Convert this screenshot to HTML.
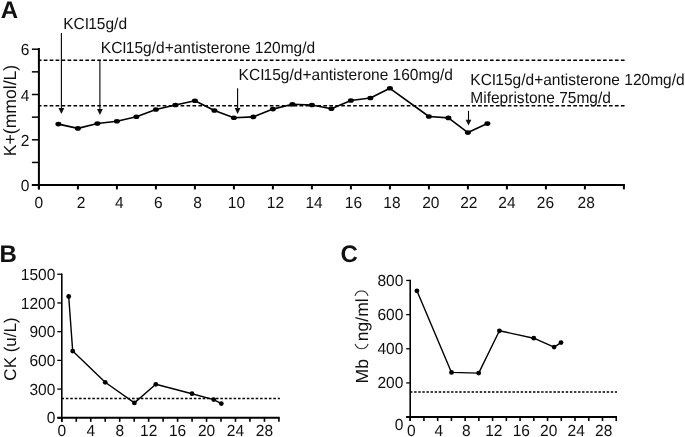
<!DOCTYPE html>
<html><head><meta charset="utf-8"><style>
html,body{margin:0;padding:0;background:#fff;width:685px;height:437px;overflow:hidden}
svg{display:block;filter:grayscale(1)}
text{font-family:"Liberation Sans",sans-serif;fill:#111}
</style></head><body>
<svg width="685" height="437" viewBox="0 0 685 437" text-rendering="geometricPrecision">
<rect width="685" height="437" fill="#fff"/>
<text transform="translate(0.70,17.80) scale(1.0,1)" font-size="24" text-anchor="start" font-weight="bold" >A</text>
<line x1="38.90" y1="60.33" x2="625.00" y2="60.33" stroke="#000" stroke-width="1.5" stroke-dasharray="3.7 2.25" stroke-dashoffset="1.15"/>
<line x1="38.90" y1="105.83" x2="625.00" y2="105.83" stroke="#000" stroke-width="1.5" stroke-dasharray="3.7 2.25" stroke-dashoffset="1.15"/>
<line x1="38.90" y1="48.00" x2="38.90" y2="189.40" stroke="#000" stroke-width="2" />
<line x1="31.90" y1="184.90" x2="624.90" y2="184.90" stroke="#000" stroke-width="2" />
<line x1="31.90" y1="185.10" x2="38.90" y2="185.10" stroke="#000" stroke-width="1.5" />
<line x1="31.90" y1="162.45" x2="38.90" y2="162.45" stroke="#000" stroke-width="1.5" />
<line x1="31.90" y1="139.80" x2="38.90" y2="139.80" stroke="#000" stroke-width="1.5" />
<line x1="31.90" y1="117.15" x2="38.90" y2="117.15" stroke="#000" stroke-width="1.5" />
<line x1="31.90" y1="94.50" x2="38.90" y2="94.50" stroke="#000" stroke-width="1.5" />
<line x1="31.90" y1="71.85" x2="38.90" y2="71.85" stroke="#000" stroke-width="1.5" />
<line x1="31.90" y1="49.20" x2="38.90" y2="49.20" stroke="#000" stroke-width="1.5" />
<line x1="38.90" y1="184.90" x2="38.90" y2="189.40" stroke="#000" stroke-width="2" />
<line x1="77.90" y1="184.90" x2="77.90" y2="189.40" stroke="#000" stroke-width="2" />
<line x1="116.90" y1="184.90" x2="116.90" y2="189.40" stroke="#000" stroke-width="2" />
<line x1="155.90" y1="184.90" x2="155.90" y2="189.40" stroke="#000" stroke-width="2" />
<line x1="194.90" y1="184.90" x2="194.90" y2="189.40" stroke="#000" stroke-width="2" />
<line x1="233.90" y1="184.90" x2="233.90" y2="189.40" stroke="#000" stroke-width="2" />
<line x1="272.90" y1="184.90" x2="272.90" y2="189.40" stroke="#000" stroke-width="2" />
<line x1="311.90" y1="184.90" x2="311.90" y2="189.40" stroke="#000" stroke-width="2" />
<line x1="350.90" y1="184.90" x2="350.90" y2="189.40" stroke="#000" stroke-width="2" />
<line x1="389.90" y1="184.90" x2="389.90" y2="189.40" stroke="#000" stroke-width="2" />
<line x1="428.90" y1="184.90" x2="428.90" y2="189.40" stroke="#000" stroke-width="2" />
<line x1="467.90" y1="184.90" x2="467.90" y2="189.40" stroke="#000" stroke-width="2" />
<line x1="506.90" y1="184.90" x2="506.90" y2="189.40" stroke="#000" stroke-width="2" />
<line x1="545.90" y1="184.90" x2="545.90" y2="189.40" stroke="#000" stroke-width="2" />
<line x1="584.90" y1="184.90" x2="584.90" y2="189.40" stroke="#000" stroke-width="2" />
<line x1="623.90" y1="184.90" x2="623.90" y2="189.40" stroke="#000" stroke-width="2" />
<text transform="translate(38.90,207.50) scale(0.97,1)" font-size="16" text-anchor="middle" font-weight="normal" >0</text>
<text transform="translate(81.00,207.50) scale(0.97,1)" font-size="16" text-anchor="middle" font-weight="normal" >2</text>
<text transform="translate(119.20,207.50) scale(0.97,1)" font-size="16" text-anchor="middle" font-weight="normal" >4</text>
<text transform="translate(158.30,207.50) scale(0.97,1)" font-size="16" text-anchor="middle" font-weight="normal" >6</text>
<text transform="translate(197.60,207.50) scale(0.97,1)" font-size="16" text-anchor="middle" font-weight="normal" >8</text>
<text transform="translate(236.40,207.50) scale(0.97,1)" font-size="16" text-anchor="middle" font-weight="normal" >10</text>
<text transform="translate(275.40,207.50) scale(0.97,1)" font-size="16" text-anchor="middle" font-weight="normal" >12</text>
<text transform="translate(314.10,207.50) scale(0.97,1)" font-size="16" text-anchor="middle" font-weight="normal" >14</text>
<text transform="translate(353.40,207.50) scale(0.97,1)" font-size="16" text-anchor="middle" font-weight="normal" >16</text>
<text transform="translate(391.90,207.50) scale(0.97,1)" font-size="16" text-anchor="middle" font-weight="normal" >18</text>
<text transform="translate(430.80,207.50) scale(0.97,1)" font-size="16" text-anchor="middle" font-weight="normal" >20</text>
<text transform="translate(468.80,207.50) scale(0.97,1)" font-size="16" text-anchor="middle" font-weight="normal" >22</text>
<text transform="translate(506.90,207.50) scale(0.97,1)" font-size="16" text-anchor="middle" font-weight="normal" >24</text>
<text transform="translate(545.40,207.50) scale(0.97,1)" font-size="16" text-anchor="middle" font-weight="normal" >26</text>
<text transform="translate(586.20,207.50) scale(0.97,1)" font-size="16" text-anchor="middle" font-weight="normal" >28</text>
<text transform="translate(29.50,191.10) scale(0.97,1)" font-size="16" text-anchor="end" font-weight="normal" >0</text>
<text transform="translate(29.50,145.80) scale(0.97,1)" font-size="16" text-anchor="end" font-weight="normal" >2</text>
<text transform="translate(29.50,100.50) scale(0.97,1)" font-size="16" text-anchor="end" font-weight="normal" >4</text>
<text transform="translate(29.50,55.20) scale(0.97,1)" font-size="16" text-anchor="end" font-weight="normal" >6</text>
<text transform="translate(15.5,110.5) rotate(-90)" font-size="17.6" text-anchor="middle">K+(mmol/L)</text>
<polyline points="58.40,124.10 77.90,128.40 97.40,123.50 116.90,121.20 136.40,116.70 155.90,109.50 175.40,105.00 194.90,100.70 214.40,110.50 233.90,117.80 253.40,116.90 272.90,109.10 292.40,104.20 311.90,105.00 331.40,108.70 350.90,100.50 370.40,98.00 389.90,88.30 428.90,116.50 448.40,117.90 467.90,132.60 487.40,123.60" fill="none" stroke="#000" stroke-width="1.6" stroke-linejoin="round"/>
<ellipse cx="58.40" cy="124.10" rx="3" ry="2.3"/>
<ellipse cx="77.90" cy="128.40" rx="3" ry="2.3"/>
<ellipse cx="97.40" cy="123.50" rx="3" ry="2.3"/>
<ellipse cx="116.90" cy="121.20" rx="3" ry="2.3"/>
<ellipse cx="136.40" cy="116.70" rx="3" ry="2.3"/>
<ellipse cx="155.90" cy="109.50" rx="3" ry="2.3"/>
<ellipse cx="175.40" cy="105.00" rx="3" ry="2.3"/>
<ellipse cx="194.90" cy="100.70" rx="3" ry="2.3"/>
<ellipse cx="214.40" cy="110.50" rx="3" ry="2.3"/>
<ellipse cx="233.90" cy="117.80" rx="3" ry="2.3"/>
<ellipse cx="253.40" cy="116.90" rx="3" ry="2.3"/>
<ellipse cx="272.90" cy="109.10" rx="3" ry="2.3"/>
<ellipse cx="292.40" cy="104.20" rx="3" ry="2.3"/>
<ellipse cx="311.90" cy="105.00" rx="3" ry="2.3"/>
<ellipse cx="331.40" cy="108.70" rx="3" ry="2.3"/>
<ellipse cx="350.90" cy="100.50" rx="3" ry="2.3"/>
<ellipse cx="370.40" cy="98.00" rx="3" ry="2.3"/>
<ellipse cx="389.90" cy="88.30" rx="3" ry="2.3"/>
<ellipse cx="428.90" cy="116.50" rx="3" ry="2.3"/>
<ellipse cx="448.40" cy="117.90" rx="3" ry="2.3"/>
<ellipse cx="467.90" cy="132.60" rx="3" ry="2.3"/>
<ellipse cx="487.40" cy="123.60" rx="3" ry="2.3"/>
<line x1="61.40" y1="33.00" x2="61.40" y2="109.90" stroke="#000" stroke-width="1.1" />
<path d="M58.50,108.00 L64.30,108.00 L61.40,113.90 Z" fill="#111"/>
<line x1="99.90" y1="60.50" x2="99.90" y2="111.00" stroke="#000" stroke-width="1.1" />
<path d="M97.00,109.10 L102.80,109.10 L99.90,115.00 Z" fill="#111"/>
<line x1="237.60" y1="88.30" x2="237.60" y2="109.90" stroke="#000" stroke-width="1.1" />
<path d="M234.70,108.00 L240.50,108.00 L237.60,113.90 Z" fill="#111"/>
<line x1="468.50" y1="110.80" x2="468.50" y2="121.60" stroke="#000" stroke-width="1.1" />
<path d="M465.60,119.70 L471.40,119.70 L468.50,125.60 Z" fill="#111"/>
<text transform="translate(63.20,28.60) scale(0.97,1)" font-size="16" text-anchor="start" font-weight="normal" >KCI<tspan dx="-0.9">15g/d</tspan></text>
<text transform="translate(100.80,53.20) scale(0.97,1)" font-size="16" text-anchor="start" font-weight="normal" >KCI<tspan dx="-0.9">15g/d+antisterone 120mg/d</tspan></text>
<text transform="translate(238.60,79.60) scale(0.97,1)" font-size="16" text-anchor="start" font-weight="normal" >KCI<tspan dx="-0.9">15g/d+antisterone 160mg/d</tspan></text>
<text transform="translate(470.30,84.60) scale(0.97,1)" font-size="16" text-anchor="start" font-weight="normal" >KCI<tspan dx="-0.9">15g/d+antisterone 120mg/d</tspan></text>
<text transform="translate(470.30,103.10) scale(0.97,1)" font-size="16" text-anchor="start" font-weight="normal" >Mifepristone 75mg/d</text>
<text transform="translate(-0.50,262.20) scale(1.0,1)" font-size="24" text-anchor="start" font-weight="bold" >B</text>
<line x1="61.80" y1="398.50" x2="279.90" y2="398.50" stroke="#000" stroke-width="1.5" stroke-dasharray="2.55 1.865" stroke-dashoffset="0.39"/>
<line x1="61.80" y1="273.55" x2="61.80" y2="421.80" stroke="#000" stroke-width="1.6" />
<line x1="57.30" y1="417.80" x2="279.71" y2="417.80" stroke="#000" stroke-width="2" />
<line x1="57.30" y1="417.80" x2="61.80" y2="417.80" stroke="#000" stroke-width="1.3" />
<line x1="57.30" y1="389.09" x2="61.80" y2="389.09" stroke="#000" stroke-width="1.3" />
<line x1="57.30" y1="360.38" x2="61.80" y2="360.38" stroke="#000" stroke-width="1.3" />
<line x1="57.30" y1="331.67" x2="61.80" y2="331.67" stroke="#000" stroke-width="1.3" />
<line x1="57.30" y1="302.96" x2="61.80" y2="302.96" stroke="#000" stroke-width="1.3" />
<line x1="57.30" y1="274.25" x2="61.80" y2="274.25" stroke="#000" stroke-width="1.3" />
<line x1="61.80" y1="417.80" x2="61.80" y2="421.80" stroke="#000" stroke-width="1.6" />
<line x1="76.27" y1="417.80" x2="76.27" y2="421.80" stroke="#000" stroke-width="1.6" />
<line x1="90.75" y1="417.80" x2="90.75" y2="421.80" stroke="#000" stroke-width="1.6" />
<line x1="105.22" y1="417.80" x2="105.22" y2="421.80" stroke="#000" stroke-width="1.6" />
<line x1="119.70" y1="417.80" x2="119.70" y2="421.80" stroke="#000" stroke-width="1.6" />
<line x1="134.17" y1="417.80" x2="134.17" y2="421.80" stroke="#000" stroke-width="1.6" />
<line x1="148.64" y1="417.80" x2="148.64" y2="421.80" stroke="#000" stroke-width="1.6" />
<line x1="163.12" y1="417.80" x2="163.12" y2="421.80" stroke="#000" stroke-width="1.6" />
<line x1="177.59" y1="417.80" x2="177.59" y2="421.80" stroke="#000" stroke-width="1.6" />
<line x1="192.07" y1="417.80" x2="192.07" y2="421.80" stroke="#000" stroke-width="1.6" />
<line x1="206.54" y1="417.80" x2="206.54" y2="421.80" stroke="#000" stroke-width="1.6" />
<line x1="221.01" y1="417.80" x2="221.01" y2="421.80" stroke="#000" stroke-width="1.6" />
<line x1="235.49" y1="417.80" x2="235.49" y2="421.80" stroke="#000" stroke-width="1.6" />
<line x1="249.96" y1="417.80" x2="249.96" y2="421.80" stroke="#000" stroke-width="1.6" />
<line x1="264.44" y1="417.80" x2="264.44" y2="421.80" stroke="#000" stroke-width="1.6" />
<line x1="278.91" y1="417.80" x2="278.91" y2="421.80" stroke="#000" stroke-width="1.6" />
<text transform="translate(61.80,435.60) scale(0.97,1)" font-size="16" text-anchor="middle" font-weight="normal" >0</text>
<text transform="translate(90.75,435.60) scale(0.97,1)" font-size="16" text-anchor="middle" font-weight="normal" >4</text>
<text transform="translate(119.70,435.60) scale(0.97,1)" font-size="16" text-anchor="middle" font-weight="normal" >8</text>
<text transform="translate(148.64,435.60) scale(0.97,1)" font-size="16" text-anchor="middle" font-weight="normal" >12</text>
<text transform="translate(177.59,435.60) scale(0.97,1)" font-size="16" text-anchor="middle" font-weight="normal" >16</text>
<text transform="translate(206.54,435.60) scale(0.97,1)" font-size="16" text-anchor="middle" font-weight="normal" >20</text>
<text transform="translate(235.49,435.60) scale(0.97,1)" font-size="16" text-anchor="middle" font-weight="normal" >24</text>
<text transform="translate(264.44,435.60) scale(0.97,1)" font-size="16" text-anchor="middle" font-weight="normal" >28</text>
<text transform="translate(55.30,422.50) scale(0.97,1)" font-size="16" text-anchor="end" font-weight="normal" >0</text>
<text transform="translate(55.30,394.89) scale(0.97,1)" font-size="16" text-anchor="end" font-weight="normal" >300</text>
<text transform="translate(55.30,366.18) scale(0.97,1)" font-size="16" text-anchor="end" font-weight="normal" >600</text>
<text transform="translate(55.30,337.47) scale(0.97,1)" font-size="16" text-anchor="end" font-weight="normal" >900</text>
<text transform="translate(55.30,308.76) scale(0.97,1)" font-size="16" text-anchor="end" font-weight="normal" >1200</text>
<text transform="translate(55.30,280.05) scale(0.97,1)" font-size="16" text-anchor="end" font-weight="normal" >1500</text>
<text transform="translate(15.5,349) rotate(-90)" font-size="17" text-anchor="middle">CK (u/L)</text>
<polyline points="68.70,296.50 72.70,351.10 105.20,382.30 134.40,402.90 155.80,384.30 192.00,393.70 213.70,399.60 221.30,403.60" fill="none" stroke="#000" stroke-width="1.4" stroke-linejoin="round"/>
<circle cx="68.70" cy="296.50" r="2.4"/>
<circle cx="72.70" cy="351.10" r="2.4"/>
<circle cx="105.20" cy="382.30" r="2.4"/>
<circle cx="134.40" cy="402.90" r="2.4"/>
<circle cx="155.80" cy="384.30" r="2.4"/>
<circle cx="192.00" cy="393.70" r="2.4"/>
<circle cx="213.70" cy="399.60" r="2.4"/>
<circle cx="221.30" cy="403.60" r="2.4"/>
<text transform="translate(340.50,262.20) scale(1.0,1)" font-size="24" text-anchor="start" font-weight="bold" >C</text>
<line x1="410.20" y1="392.10" x2="617.00" y2="392.10" stroke="#000" stroke-width="1.5" stroke-dasharray="2.4 1.696" stroke-dashoffset="0.1"/>
<line x1="410.20" y1="279.76" x2="410.20" y2="421.10" stroke="#000" stroke-width="1.6" />
<line x1="406.20" y1="417.10" x2="617.01" y2="417.10" stroke="#000" stroke-width="2" />
<line x1="406.20" y1="417.10" x2="410.20" y2="417.10" stroke="#000" stroke-width="1.3" />
<line x1="406.20" y1="382.94" x2="410.20" y2="382.94" stroke="#000" stroke-width="1.3" />
<line x1="406.20" y1="348.78" x2="410.20" y2="348.78" stroke="#000" stroke-width="1.3" />
<line x1="406.20" y1="314.62" x2="410.20" y2="314.62" stroke="#000" stroke-width="1.3" />
<line x1="406.20" y1="280.46" x2="410.20" y2="280.46" stroke="#000" stroke-width="1.3" />
<line x1="410.20" y1="417.10" x2="410.20" y2="421.10" stroke="#000" stroke-width="1.6" />
<line x1="423.93" y1="417.10" x2="423.93" y2="421.10" stroke="#000" stroke-width="1.6" />
<line x1="437.67" y1="417.10" x2="437.67" y2="421.10" stroke="#000" stroke-width="1.6" />
<line x1="451.40" y1="417.10" x2="451.40" y2="421.10" stroke="#000" stroke-width="1.6" />
<line x1="465.14" y1="417.10" x2="465.14" y2="421.10" stroke="#000" stroke-width="1.6" />
<line x1="478.87" y1="417.10" x2="478.87" y2="421.10" stroke="#000" stroke-width="1.6" />
<line x1="492.60" y1="417.10" x2="492.60" y2="421.10" stroke="#000" stroke-width="1.6" />
<line x1="506.34" y1="417.10" x2="506.34" y2="421.10" stroke="#000" stroke-width="1.6" />
<line x1="520.07" y1="417.10" x2="520.07" y2="421.10" stroke="#000" stroke-width="1.6" />
<line x1="533.81" y1="417.10" x2="533.81" y2="421.10" stroke="#000" stroke-width="1.6" />
<line x1="547.54" y1="417.10" x2="547.54" y2="421.10" stroke="#000" stroke-width="1.6" />
<line x1="561.27" y1="417.10" x2="561.27" y2="421.10" stroke="#000" stroke-width="1.6" />
<line x1="575.01" y1="417.10" x2="575.01" y2="421.10" stroke="#000" stroke-width="1.6" />
<line x1="588.74" y1="417.10" x2="588.74" y2="421.10" stroke="#000" stroke-width="1.6" />
<line x1="602.48" y1="417.10" x2="602.48" y2="421.10" stroke="#000" stroke-width="1.6" />
<line x1="616.21" y1="417.10" x2="616.21" y2="421.10" stroke="#000" stroke-width="1.6" />
<text transform="translate(411.40,435.60) scale(0.97,1)" font-size="16" text-anchor="middle" font-weight="normal" >0</text>
<text transform="translate(438.87,435.60) scale(0.97,1)" font-size="16" text-anchor="middle" font-weight="normal" >4</text>
<text transform="translate(466.34,435.60) scale(0.97,1)" font-size="16" text-anchor="middle" font-weight="normal" >8</text>
<text transform="translate(493.80,435.60) scale(0.97,1)" font-size="16" text-anchor="middle" font-weight="normal" >12</text>
<text transform="translate(521.27,435.60) scale(0.97,1)" font-size="16" text-anchor="middle" font-weight="normal" >16</text>
<text transform="translate(548.74,435.60) scale(0.97,1)" font-size="16" text-anchor="middle" font-weight="normal" >20</text>
<text transform="translate(576.21,435.60) scale(0.97,1)" font-size="16" text-anchor="middle" font-weight="normal" >24</text>
<text transform="translate(603.68,435.60) scale(0.97,1)" font-size="16" text-anchor="middle" font-weight="normal" >28</text>
<text transform="translate(403.30,388.24) scale(0.97,1)" font-size="16" text-anchor="end" font-weight="normal" >200</text>
<text transform="translate(403.30,354.08) scale(0.97,1)" font-size="16" text-anchor="end" font-weight="normal" >400</text>
<text transform="translate(403.30,319.92) scale(0.97,1)" font-size="16" text-anchor="end" font-weight="normal" >600</text>
<text transform="translate(403.30,285.76) scale(0.97,1)" font-size="16" text-anchor="end" font-weight="normal" >800</text>
<text transform="translate(403.30,430.00) scale(0.97,1)" font-size="16" text-anchor="end" font-weight="normal" >0</text>
<text transform="translate(367.8,383.4) rotate(-90)" font-size="17.5">Mb</text>
<text transform="translate(367.8,341.2) rotate(-90)" font-size="17.5">ng/ml</text>
<path d="M355.1,343.9 A6.8 6.8 0 0 0 368.1,343.9" fill="none" stroke="#222" stroke-width="1.05"/>
<path d="M355.0,295.9 A6.8 6.8 0 0 1 368.0,295.9" fill="none" stroke="#222" stroke-width="1.05"/>
<polyline points="416.90,290.80 451.50,372.40 478.70,373.10 499.40,330.80 533.80,338.20 554.10,347.10 561.00,342.60" fill="none" stroke="#000" stroke-width="1.4" stroke-linejoin="round"/>
<circle cx="416.90" cy="290.80" r="2.4"/>
<circle cx="451.50" cy="372.40" r="2.4"/>
<circle cx="478.70" cy="373.10" r="2.4"/>
<circle cx="499.40" cy="330.80" r="2.4"/>
<circle cx="533.80" cy="338.20" r="2.4"/>
<circle cx="554.10" cy="347.10" r="2.4"/>
<circle cx="561.00" cy="342.60" r="2.4"/>
</svg>
</body></html>
